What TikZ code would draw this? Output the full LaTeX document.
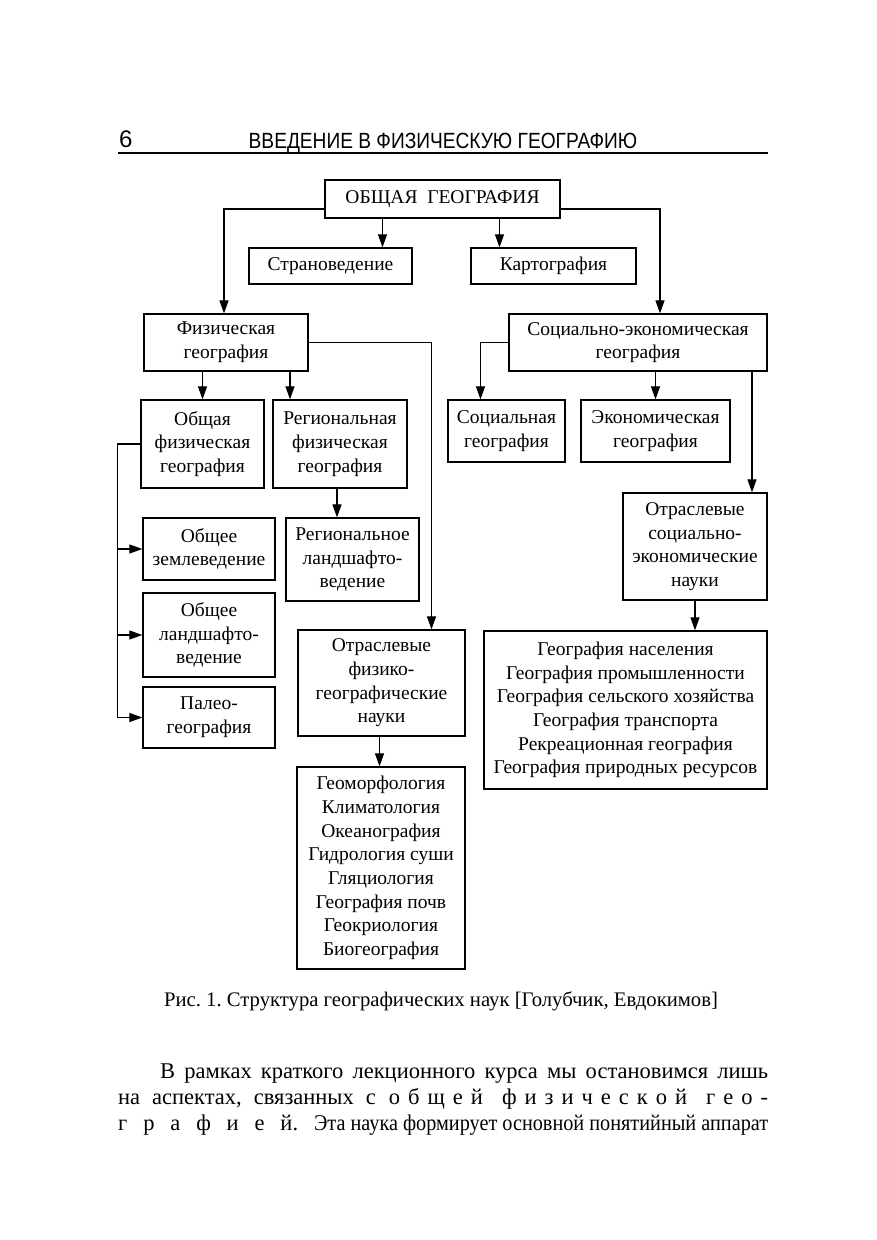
\documentclass[tikz,border=0pt]{standalone}
\usepackage{graphicx}
\usepackage{fontspec}
\setmainfont{Liberation Serif}
\newfontfamily\hdrfont{Liberation Sans}
\newcommand\lsp{\hskip 7pt plus 1fil}
\newcommand\wsp{\hskip 11pt plus 1fil}
\newcommand\gsp{\hskip 18pt plus 1fil}
\frenchspacing
\usetikzlibrary{arrows.meta,calc}

\begin{document}
\begin{tikzpicture}[x=1pt,y=1pt,font=\fontsize{19.5}{23.7}\selectfont,
 >={Triangle[length=13pt,width=9pt]},
 bx/.style={draw,line width=1.3pt,align=center,inner sep=0pt},
 arr/.style={->,line width=1.2pt},
 lnk/.style={line width=1.2pt},
 body/.style={anchor=base west,inner sep=0pt,font=\fontsize{22.5}{26}\selectfont}]
\fill[white] (0,0) rectangle (876,-1240);
\useasboundingbox (0,0) rectangle (876,-1240);
% running head
\node[anchor=base west,inner sep=0pt,font=\hdrfont\fontsize{24}{24}\selectfont] (pgno) at (119,-147) {6};
\node[anchor=base,inner sep=0pt,font=\hdrfont\fontsize{22}{24}\selectfont] (head) at (443,-148)
 {\scalebox{0.87}[1]{ВВЕДЕНИЕ В ФИЗИЧЕСКУЮ ГЕОГРАФИЮ}};
\draw[line width=1.2pt] (118,-153) -- (768,-153);
% top level
\node[bx,minimum width=235pt,minimum height=38pt] (obsh) at (442.5,-199) {ОБЩАЯ\ \ ГЕОГРАФИЯ};
\node[bx,minimum width=163pt,minimum height=36pt] (stran) at (330.5,-266) {Страноведение};
\node[bx,minimum width=165pt,minimum height=36pt] (karto) at (553.5,-266) {Картография};
\node[bx,minimum width=164pt,minimum height=57pt] (fiz) at (226,-342.5) {Физическая\\география};
\node[bx,minimum width=258pt,minimum height=57pt] (soc) at (638,-342.5) {Социально-экономическая\\география};
% physical branch
\node[bx,minimum width=123pt,minimum height=88pt] (obfiz) at (202.5,-444) {Общая\\физическая\\география};
\node[bx,minimum width=134pt,minimum height=88pt] (regfiz) at (340,-444) {Региональная\\физическая\\география};
\node[bx,minimum width=132pt,minimum height=62pt] (zeml) at (209,-549) {Общее\\землеведение};
\node[bx,minimum width=132pt,minimum height=84pt] (land) at (209,-635) {Общее\\ландшафто-\\ведение};
\node[bx,minimum width=132pt,minimum height=61pt] (paleo) at (209,-717.5) {Палео-\\география};
\node[bx,minimum width=133pt,minimum height=83pt] (regland) at (352.5,-559.5) {Региональное\\ландшафто-\\ведение};
\node[bx,minimum width=167pt,minimum height=106pt] (otrfiz) at (381.5,-683) {Отраслевые\\физико-\\географические\\науки};
\node[bx,minimum width=168pt,minimum height=202pt] (fizlist) at (381,-868)
 {Геоморфология\\Климатология\\Океанография\\Гидрология суши\\Гляциология\\География почв\\Геокриология\\Биогеография};
% social-economic branch
\node[bx,minimum width=117pt,minimum height=62pt] (socg) at (506.5,-431) {Социальная\\география};
\node[bx,minimum width=149pt,minimum height=62pt] (ekon) at (655.5,-431) {Экономическая\\география};
\node[bx,minimum width=144pt,minimum height=107pt] (otrsoc) at (695,-546.5) {Отраслевые\\социально-\\экономические\\науки};
\node[bx,minimum width=283pt,minimum height=158pt] (soclist) at (625.5,-710)
 {География населения\\География промышленности\\География сельского хозяйства\\География транспорта\\Рекреационная география\\География природных ресурсов};
% connectors
\draw[arr] ([xshift=-60pt]obsh.south) -- ([xshift=-60pt]obsh.south |- stran.north);
\draw[arr] ([xshift=57pt]obsh.south) -- ([xshift=57pt]obsh.south |- karto.north);
\draw[arr] ([yshift=-10pt]obsh.west) -| ([xshift=-2pt]fiz.north);
\draw[arr] ([yshift=-10pt]obsh.east) -| ([xshift=22pt]soc.north);
\draw[arr] (fiz.south -| obfiz.north) -- (obfiz.north);
\draw[arr] ([xshift=-50pt]regfiz.north |- fiz.south) -- ([xshift=-50pt]regfiz.north);
\draw[arr] (fiz.east) -| ([xshift=50pt]otrfiz.north);
\draw[arr] ([xshift=-3pt]regfiz.south) -- ([xshift=-3pt]regfiz.south |- regland.north);
\coordinate (brk) at ([xshift=-23pt]obfiz.west);
\draw[lnk] (obfiz.west) -- (brk) -- (brk |- paleo.west);
\foreach \b in {zeml,land,paleo}
 \draw[arr] (brk |- \b.west) -- (\b.west);
\draw[arr] ([xshift=-2pt]otrfiz.south) -- ([xshift=-2pt]otrfiz.south |- fizlist.north);
\draw[arr] (soc.west) -| ([xshift=-26pt]socg.north);
\draw[arr] (soc.south -| ekon.north) -- (ekon.north);
\draw[arr] ([xshift=57pt]otrsoc.north |- soc.south) -- ([xshift=57pt]otrsoc.north);
\draw[arr] (otrsoc.south) -- (otrsoc.south |- soclist.north);
% caption and text
\node[anchor=base,inner sep=0pt,font=\fontsize{20.7}{24}\selectfont] (cap) at (441,-1006)
 {Рис. 1. Структура географических наук [Голубчик, Евдокимов]};
\node[body] (par1) at (160,-1078) {\makebox[608pt][s]{В рамках краткого лекционного курса мы остановимся лишь}};
\node[body] (par2) at (118,-1104) {\makebox[650pt][s]{на\wsp аспектах,\wsp связанных\wsp с\hskip 12pt plus 1fil
 о\lsp б\lsp щ\lsp е\lsp й\gsp ф\lsp и\lsp з\lsp и\lsp ч\lsp е\lsp с\lsp к\lsp о\lsp й\gsp г\lsp е\lsp о\lsp -}};
\node[body] (par3) at (118,-1130) {\makebox[650pt][s]{г\lsp р\lsp а\lsp ф\lsp и\lsp е\lsp й.\lsp
 \scalebox{0.9}[1]{Эта наука формирует основной понятийный аппарат}}};
\end{tikzpicture}
\end{document}
